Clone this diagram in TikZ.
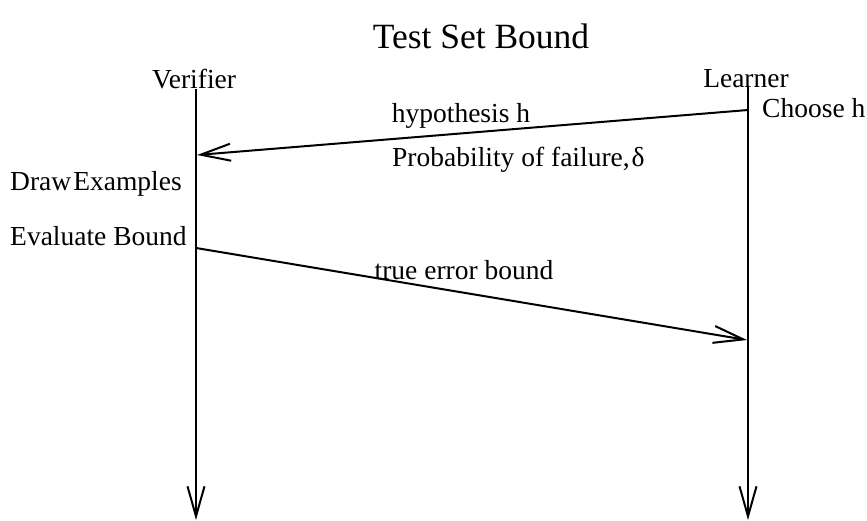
\documentclass[tikz,border=0pt]{standalone}
\usepackage{fontspec}
\setmainfont{Liberation Serif}
\usetikzlibrary{arrows.meta}
\begin{document}
\begin{tikzpicture}[x=1pt,y=-1pt,
  lbl/.style={inner sep=0pt,font=\fontsize{27.5}{32}\selectfont},
  ttl/.style={inner sep=0pt,font=\fontsize{35.5}{40}\selectfont},
  barb/.style={-{Straight Barb[length=30pt,width=17pt,line width=0pt 1]}},
  life/.style={line width=2pt,barb},
  msg/.style={line width=2pt,barb}]
\useasboundingbox (0,0) rectangle (867,521);
% title
\node[ttl] (title) at (481,36) {Test Set Bound};
% participants and lifelines
\node[lbl] (ver) at (194,79) {Verifier};
\node[lbl] (lea) at (746,79) {Learner};
\coordinate (vtop) at (196,89);
\coordinate (vbot) at (196,520);
\coordinate (ltop) at (748,87);
\coordinate (lbot) at (748,520);
\draw[life] (vtop) -- (vbot);
\draw[life] (ltop) -- (lbot);
% message end points on the lifelines
\coordinate (m1s) at (748,110);
\coordinate (m1e) at (197,155);
\coordinate (m2s) at (196,248);
\coordinate (m2e) at (747,340);
\draw[msg] (m1s) -- (m1e);
\draw[msg] (m2s) -- (m2e);
% labels
\node[lbl,anchor=west] (choose) at (762,108) {Choose h};
\node[lbl] (hyp) at (461,116) {hypothesis h};
\node[lbl,anchor=west] (prob) at (392,160) {Probability of failure,\kern2pt δ};
\node[lbl,anchor=west] (draw) at (10,184) {Draw\kern2pt Examples};
\node[lbl,anchor=west] (eval) at (10,236) {Evaluate Bound};
\node[lbl] (teb) at (464,270) {true error bound};
\end{tikzpicture}
\end{document}
